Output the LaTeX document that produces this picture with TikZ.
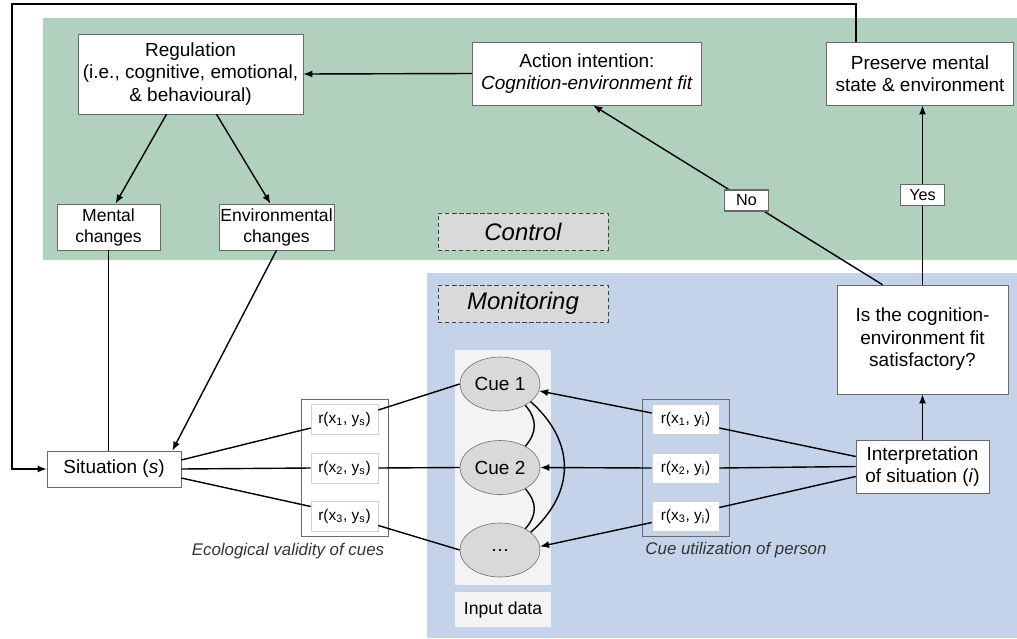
\documentclass[tikz,border=0pt]{standalone}
\usepackage{fontspec}
\setmainfont{Liberation Sans}
\usetikzlibrary{arrows.meta, positioning, shapes.geometric, calc, fit}
\definecolor{ctrlgreen}{RGB}{178, 208, 190}
\definecolor{monblue}{RGB}{196, 210, 234}
\definecolor{cuegray}{RGB}{217, 217, 217}
\definecolor{colgray}{RGB}{243, 243, 243}
\definecolor{edgegray}{RGB}{105, 105, 105}
\tikzset{
  box/.style={draw=edgegray, fill=white, align=center, inner sep=1pt,
    font=\fontsize{13.5}{16}\selectfont},
  smallbox/.style={box, font=\fontsize{12.5}{15}\selectfont},
  rbox/.style={draw=black!18, fill=white, minimum width=1.675cm,
    minimum height=0.75cm, inner sep=1pt, font=\fontsize{11}{13}\selectfont},
  cue/.style={ellipse, draw=edgegray, fill=cuegray, minimum width=2cm,
    minimum height=1.35cm, inner sep=0pt, font=\fontsize{13.5}{16}\selectfont},
  tag/.style={draw=black!75, densely dashed, fill=cuegray, minimum width=4.25cm,
    minimum height=0.925cm, font=\fontsize{17}{20}\selectfont\itshape},
  lab/.style={draw=edgegray, fill=white, inner sep=1pt, minimum width=1.1cm,
    minimum height=0.525cm, font=\fontsize{11.5}{13}\selectfont},
  note/.style={font=\fontsize{12}{14}\selectfont\itshape, text=black!80},
  grp/.style={draw=edgegray, inner xsep=0.24cm, inner ysep=0.12cm},
  arr/.style={-{Latex[length=6.5pt, width=5pt]}, line width=1pt},
  link/.style={line width=1pt},
}

\begin{document}
\begin{tikzpicture}[x=0.025cm, y=-0.025cm]
  \useasboundingbox (0,0) rectangle (1017,638);
  % backgrounds
  \fill[ctrlgreen] (43,18) rectangle (1017,260);
  \fill[monblue] (427,273) rectangle (1017,638);
  \fill[colgray] (455,350) rectangle (551,585);

  % control part
  \node[box, minimum width=5.625cm, minimum height=2cm] (reg) at (190.5,74)
    {Regulation\\(i.e., cognitive, emotional,\\\& behavioural)};
  \node[box, minimum width=5.725cm, minimum height=1.575cm] (act) at (587,73.5)
    {Action intention:\\\textit{Cognition-environment fit}};
  \node[box, minimum width=4.675cm, minimum height=1.575cm] (pres) at (920,73.5)
    {Preserve mental\\state \& environment};
  \node[smallbox, minimum width=2.575cm, minimum height=1.15cm] (ment) at (108.5,227)
    {Mental\\changes};
  \node[smallbox, minimum width=2.875cm, minimum height=1.15cm] (env) at (276.5,227)
    {Environmental\\changes};
  \node[tag] (ctrl) at (523,231.5) {Control};

  % monitoring part
  \node[tag] (mon) at (523,303.5) {Monitoring};
  \node[box, minimum width=4.275cm, minimum height=2.725cm] (fit) at (922.5,339.5)
    {Is the cognition-\\environment fit\\satisfactory?};
  \node[box, minimum width=3.325cm, minimum height=1.325cm] (interp) at (922.5,466.5)
    {Interpretation\\of situation (\textit{i})};
  \node[box, minimum width=3.35cm, minimum height=0.9cm] (sit) at (114,469)
    {Situation (\textit{s})};
  \node[cue] (cue1) at (500,384) {Cue 1};
  \node[cue] (cue2) at (500,467.5) {Cue 2};
  \node[cue] (cue3) at (500,550) {\dots};
  \node[fill=colgray, minimum width=2.4cm, minimum height=0.875cm,
    font=\fontsize{12.5}{15}\selectfont] (inp) at (503,609.5) {Input data};

  % cue correlations
  \node[rbox] (rs1) at (344.5,419) {r(x\textsubscript{1}, y\textsubscript{s})};
  \node[rbox] (rs2) at (344.5,468) {r(x\textsubscript{2}, y\textsubscript{s})};
  \node[rbox] (rs3) at (344.5,516.5) {r(x\textsubscript{3}, y\textsubscript{s})};
  \node[grp, fit=(rs1)(rs3)] (rsgrp) {};
  \node[rbox] (ri1) at (685.5,419) {r(x\textsubscript{1}, y\textsubscript{i})};
  \node[rbox] (ri2) at (685.5,468) {r(x\textsubscript{2}, y\textsubscript{i})};
  \node[rbox] (ri3) at (685.5,516.5) {r(x\textsubscript{3}, y\textsubscript{i})};
  \node[grp, fit=(ri1)(ri3)] (rigrp) {};
  \node[note] (ecol) at (288,551) {Ecological validity of cues};
  \node[note] (util) at (736,550) {Cue utilization of person};

  % control arrows
  \draw[arr] (act.west) -- (reg.east);
  \draw[arr] ($(reg.south)+(-24,0)$) -- ($(ment.north)+(7,0)$);
  \draw[arr] ($(reg.south)+(26,0)$) -- ($(env.north)+(-6,0)$);
  \draw[link] (ment.south) -- (ment.south |- sit.north);
  \draw[arr] (env.south) -- ($(sit.north east)+(-9,0)$);
  \draw[arr] ($(fit.north)+(-40,0)$) -- node[lab, pos=0.47] (no) {No}
    ($(act.south)+(6,0)$);
  \draw[arr] (fit.north) -- node[lab] (yes) {Yes} (fit.north |- pres.south);
  \coordinate (loop) at (12,4);
  \draw[arr] ($(pres.north)+(-64,0)$) |- (loop) |- (sit.west);

  % lens
  \draw[link] ($(sit.east)+(0,-9)$) -- ($(rs1.west)+(0,9)$);
  \draw[link] (sit.east) -- (rs2.west);
  \draw[link] ($(sit.east)+(0,9)$) -- ($(rs3.west)+(0,-10)$);
  \draw[link] ($(rs1.east)+(0,-9)$) -- (cue1.west);
  \draw[link] (rs2.east) -- (cue2.west);
  \draw[link] ($(rs3.east)+(0,9)$) -- (cue3.west);
  \draw[arr] ($(ri1.west)+(0,-6)$) -- (cue1.-10);
  \draw[arr] (ri2.west) -- (cue2.east);
  \draw[arr] ($(ri3.west)+(0,6)$) -- (cue3.5);
  \draw[link] ($(ri1.east)+(0,9)$) -- ($(interp.west)+(0,-10)$);
  \draw[link] (ri2.east) -- (interp.west);
  \draw[link] ($(ri3.east)+(0,-9)$) -- ($(interp.west)+(0,10)$);
  \draw[arr] (interp.north) -- (fit.south);
  \draw[link] (cue1.-40) .. controls +(12,14) and +(12,-14) .. (cue2.40);
  \draw[link] (cue2.-40) .. controls +(12,14) and +(12,-14) .. (cue3.40);
  \draw[link] (cue1.-30) .. controls +(45,40) and +(45,-40) .. (cue3.30);
\end{tikzpicture}
\end{document}
